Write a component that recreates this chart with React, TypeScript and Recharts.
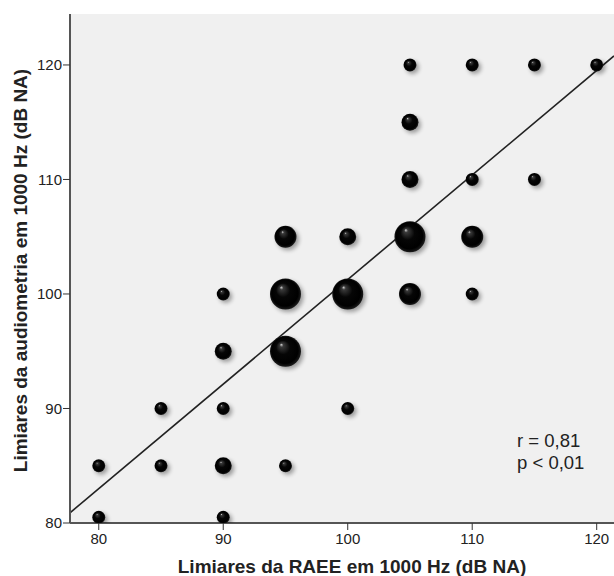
import {
  ScatterChart,
  Scatter,
  XAxis,
  YAxis,
  CartesianGrid,
  ReferenceLine,
  ReferenceDot,
} from "recharts";

// thresholds; n = how many subjects share the point (bubble size)
const raeeX = [80, 80, 85, 85, 90, 90, 90, 90, 90, 95, 95, 95, 95, 100, 100, 100, 105, 105, 105, 105, 105, 110, 110, 110, 110, 115, 115, 120];
const audioY = [85, 80.5, 90, 85, 100, 95, 90, 85, 80.5, 105, 100, 95, 85, 105, 100, 90, 120, 115, 110, 105, 100, 120, 110, 105, 100, 120, 110, 120];
const counts = [1, 1, 1, 1, 1, 2, 1, 2, 1, 3, 4, 4, 1, 2, 4, 1, 1, 2, 2, 4, 3, 1, 1, 3, 1, 1, 1, 1];

const xTicks = [80, 90, 100, 110, 120];
const yTicks = [80, 90, 100, 110, 120];
const X_DOMAIN: [number, number] = [77.69, 121.39];
const Y_DOMAIN: [number, number] = [80, 124.45];

// fitted line y = a + b*x
const FIT_A = 9.96;
const FIT_B = 0.913;

const ANNOT_X = 113.6;
const ANNOT_Y = 86.66;

const RADIUS: Record<number, number> = { 1: 6.5, 2: 8.5, 3: 11, 4: 15.5 };

const FONT = 'Arial, "Liberation Sans", sans-serif';
const C_AXIS = "#555555";
const C_TEXT = "#222222";
const C_BG = "#f0f0f0";

const points = raeeX.map((x, i) => ({ x, y: audioY[i], n: counts[i] }));

function Ball(props: any) {
  const { cx, cy, payload } = props;
  const r = RADIUS[payload.n] ?? 6.5;
  return (
    <g>
      <circle cx={cx + 2.5} cy={cy + 2.5} r={r} fill="#000" opacity={0.35} filter="url(#ballShadow)" />
      <circle cx={cx} cy={cy} r={r} fill="url(#ballFill)" />
    </g>
  );
}

export default function App() {
  return (
    <div style={{ position: "absolute", left: 0, top: 0, width: 614, height: 576, overflow: "hidden", background: "#fff" }}>
      <ScatterChart width={614} height={576} margin={{ top: 14, right: 0, bottom: 0, left: 0 }}>
        <defs>
          <radialGradient id="ballFill" cx="50%" cy="50%" r="50%" fx="36%" fy="28%">
            <stop offset="0%" stopColor="#d8d8d8" />
            <stop offset="12%" stopColor="#3a3a3a" />
            <stop offset="45%" stopColor="#060606" />
            <stop offset="85%" stopColor="#000000" />
            <stop offset="100%" stopColor="#1c1c1c" />
          </radialGradient>
          <filter id="ballShadow" x="-50%" y="-50%" width="200%" height="200%">
            <feGaussianBlur stdDeviation="2" />
          </filter>
        </defs>
        <CartesianGrid horizontal={false} vertical={false} fill={C_BG} />
        <XAxis
          xAxisId="top"
          orientation="top"
          type="number"
          domain={X_DOMAIN}
          allowDataOverflow
          tick={false}
          tickLine={false}
          height={0}
          axisLine={{ stroke: "#888", strokeWidth: 2 }}
        />
        <XAxis
          dataKey="x"
          type="number"
          domain={X_DOMAIN}
          allowDataOverflow
          ticks={xTicks}
          height={53}
          tickSize={7}
          tickMargin={3}
          tick={{ fill: C_TEXT, fontSize: 15, fontFamily: FONT }}
          tickLine={{ stroke: "#333" }}
          axisLine={{ stroke: C_AXIS, strokeWidth: 2 }}
          label={{
            content: (p: any) => (
              <text
                x={p.viewBox.x + p.viewBox.width / 2 + 10}
                y={p.viewBox.y + 50}
                textAnchor="middle"
                fontSize={19}
                fontWeight="bold"
                fontFamily={FONT}
                fill={C_TEXT}
              >
                Limiares da RAEE em 1000 Hz (dB NA)
              </text>
            ),
          }}
        />
        <YAxis
          dataKey="y"
          type="number"
          domain={Y_DOMAIN}
          allowDataOverflow
          ticks={yTicks}
          width={70}
          tickSize={7}
          tickMargin={1}
          tick={{ fill: C_TEXT, fontSize: 15, fontFamily: FONT }}
          tickLine={{ stroke: "#333" }}
          axisLine={{ stroke: C_AXIS, strokeWidth: 2 }}
          label={{
            content: (p: any) => {
              const x = p.viewBox.x + 27;
              const y = p.viewBox.y + p.viewBox.height / 2 + 2;
              return (
                <text
                  x={x}
                  y={y}
                  transform={`rotate(-90, ${x}, ${y})`}
                  textAnchor="middle"
                  fontSize={19}
                  fontWeight="bold"
                  fontFamily={FONT}
                  fill={C_TEXT}
                >
                  Limiares da audiometria em 1000 Hz (dB NA)
                </text>
              );
            },
          }}
        />
        <ReferenceLine
          segment={[
            { x: X_DOMAIN[0], y: FIT_A + FIT_B * X_DOMAIN[0] },
            { x: X_DOMAIN[1], y: FIT_A + FIT_B * X_DOMAIN[1] },
          ]}
          stroke="#222"
          strokeWidth={1.6}
          ifOverflow="hidden"
        />
        <Scatter data={points} shape={Ball} isAnimationActive={false} />
        <ReferenceDot
          x={ANNOT_X}
          y={ANNOT_Y}
          r={0}
          ifOverflow="visible"
          shape={(p: any) => (
            <text x={p.cx} y={p.cy} fontSize={18.5} fontFamily={FONT} fill={C_TEXT}>
              <tspan x={p.cx}>r = 0,81</tspan>
              <tspan x={p.cx} dy={22.5}>p &lt; 0,01</tspan>
            </text>
          )}
        />
      </ScatterChart>
    </div>
  );
}
